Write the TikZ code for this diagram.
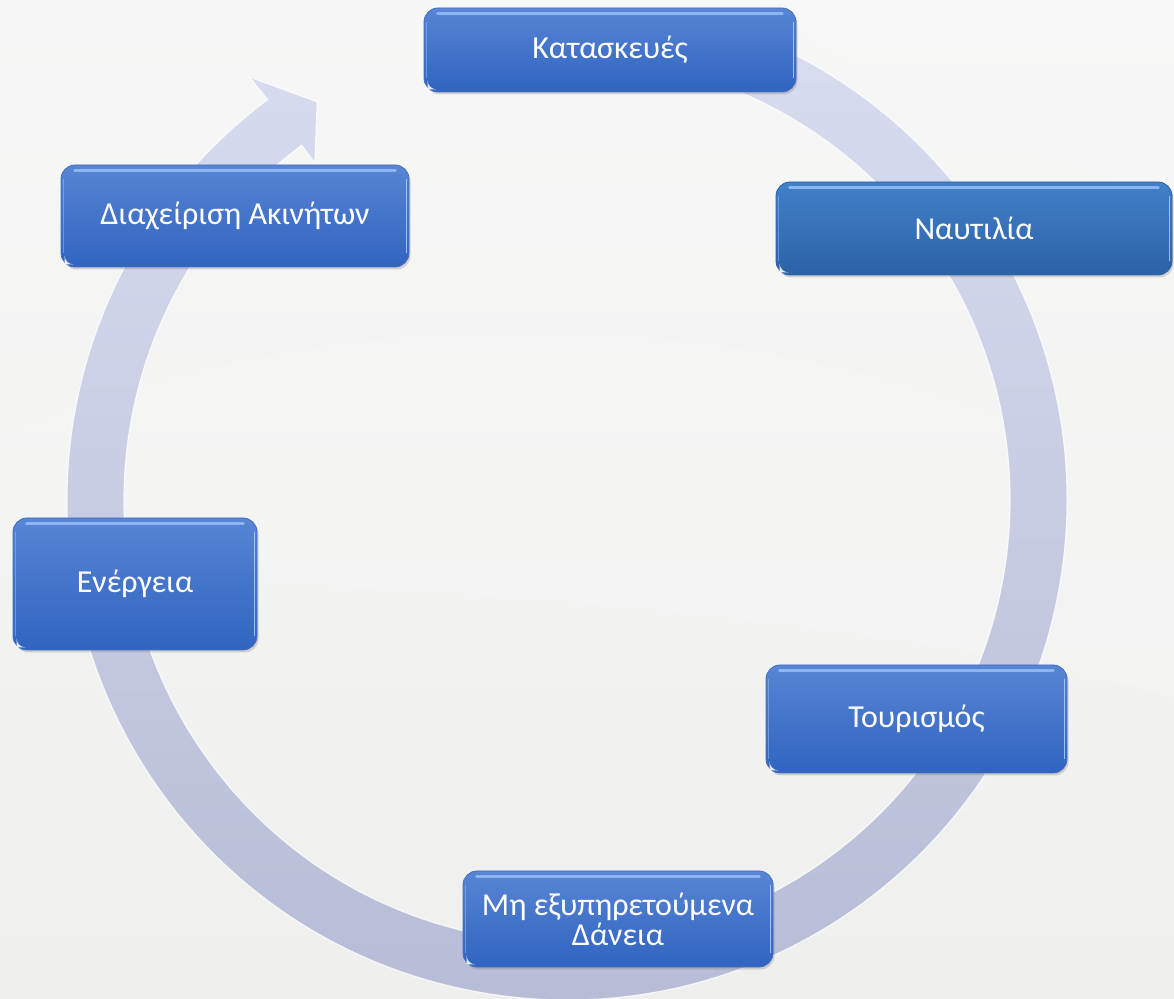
\documentclass[tikz,border=0pt]{standalone}
\usepackage{fontspec}
\setmainfont{Carlito}
\usetikzlibrary{shadings,shadows}
\definecolor{bgtop}{RGB}{247,247,247}
\definecolor{bgbot}{RGB}{239,239,237}
\definecolor{bandtop}{RGB}{216,221,240}
\definecolor{bandbot}{RGB}{182,187,214}
\definecolor{boxtop}{RGB}{88,133,212}
\definecolor{boxbot}{RGB}{48,100,192}
\definecolor{boxedge}{RGB}{70,110,190}
\definecolor{navtop}{RGB}{66,128,202}
\definecolor{navbot}{RGB}{44,98,166}
\definecolor{hilite}{RGB}{150,192,248}
\tikzset{
  cardbox/.style={rounded corners=14pt, top color=boxtop, bottom color=boxbot,
    draw=boxedge, line width=0.8pt, text=white, align=center,
    font=\fontsize{32}{30}\selectfont, inner sep=0pt,
    drop shadow={shadow xshift=1.5pt, shadow yshift=-2.5pt, opacity=0.3}},
  navbox/.style={cardbox, top color=navtop, bottom color=navbot, draw=navbot},
  topglow/.style={draw=hilite, line width=3pt, line cap=round, opacity=0.85},
  sideglow/.style={draw=hilite!70!white, line width=1.5pt, opacity=0.8},
  cornerglow/.style={fill=white, opacity=0.85}
}
\newcommand{\glossy}[1]{%
  \draw[topglow] ([xshift=14pt,yshift=-6pt]#1.north west) -- ([xshift=-14pt,yshift=-6pt]#1.north east);
  \draw[sideglow] ([xshift=-3pt,yshift=-14pt]#1.north east) -- ([xshift=-3pt,yshift=14pt]#1.south east);
  \draw[sideglow, draw=hilite, opacity=0.5] ([xshift=3pt,yshift=-14pt]#1.north west) -- ([xshift=3pt,yshift=14pt]#1.south west);
  \fill[cornerglow] ([xshift=4pt,yshift=3pt]#1.south west) -- ([xshift=13pt,yshift=3pt]#1.south west)
     arc[start angle=-90, end angle=-180, radius=9pt] -- cycle;
}
\begin{document}
\begin{tikzpicture}[x=1pt,y=1pt]
\useasboundingbox (0,0) rectangle (1174,998);
\shade[top color=bgtop, bottom color=bgbot] (0,0) rectangle (1174,998);
% faint background swoosh
\fill[white, opacity=0.22] (760,998) .. controls (880,900) and (1080,830) .. (1174,800) -- (1174,998) -- cycle;
\fill[white, opacity=0.15] (0,560) .. controls (300,700) and (800,720) .. (1174,500) -- (1174,300) .. controls (900,380) and (400,420) .. (0,420) -- cycle;

% circular arrow band
\begin{scope}[shift={(567,498)}]
  \coordinate (ctr) at (0,0);
  \coordinate (tailout) at (80:500);
  \coordinate (wingout) at (126.9:529);
  \coordinate (tip) at (122.1:470);
  \coordinate (wingin) at (126.8:421);
  \coordinate (headin) at (126.8:443);
  \path[top color=bandtop, bottom color=bandbot, draw=white, line width=1.2pt, draw opacity=0.8]
    (tailout) arc[start angle=80, end angle=-233.2, radius=500pt]
    -- (wingout) -- (tip) -- (wingin) -- (headin)
    arc[start angle=-233.2, end angle=80, radius=443pt] -- cycle;
\end{scope}

% boxes
\node[cardbox, minimum width=372pt, minimum height=84pt] (k) at (610,948) {Κατασκευές};
\glossy{k}
\node[navbox, minimum width=396pt, minimum height=93pt] (n) at (974,769.5) {Ναυτιλία};
\glossy{n}
\node[cardbox, minimum width=348pt, minimum height=102pt] (d) at (235,782) {Διαχείριση Ακινήτων};
\glossy{d}
\node[cardbox, minimum width=244pt, minimum height=132pt] (e) at (135,414) {Ενέργεια};
\glossy{e}
\node[cardbox, minimum width=301pt, minimum height=108pt] (t) at (916.5,279) {Τουρισμός};
\glossy{t}
\node[cardbox, minimum width=310pt, minimum height=96pt] (m) at (618,79) {Μη εξυπηρετούμενα\\Δάνεια};
\glossy{m}
\end{tikzpicture}
\end{document}
